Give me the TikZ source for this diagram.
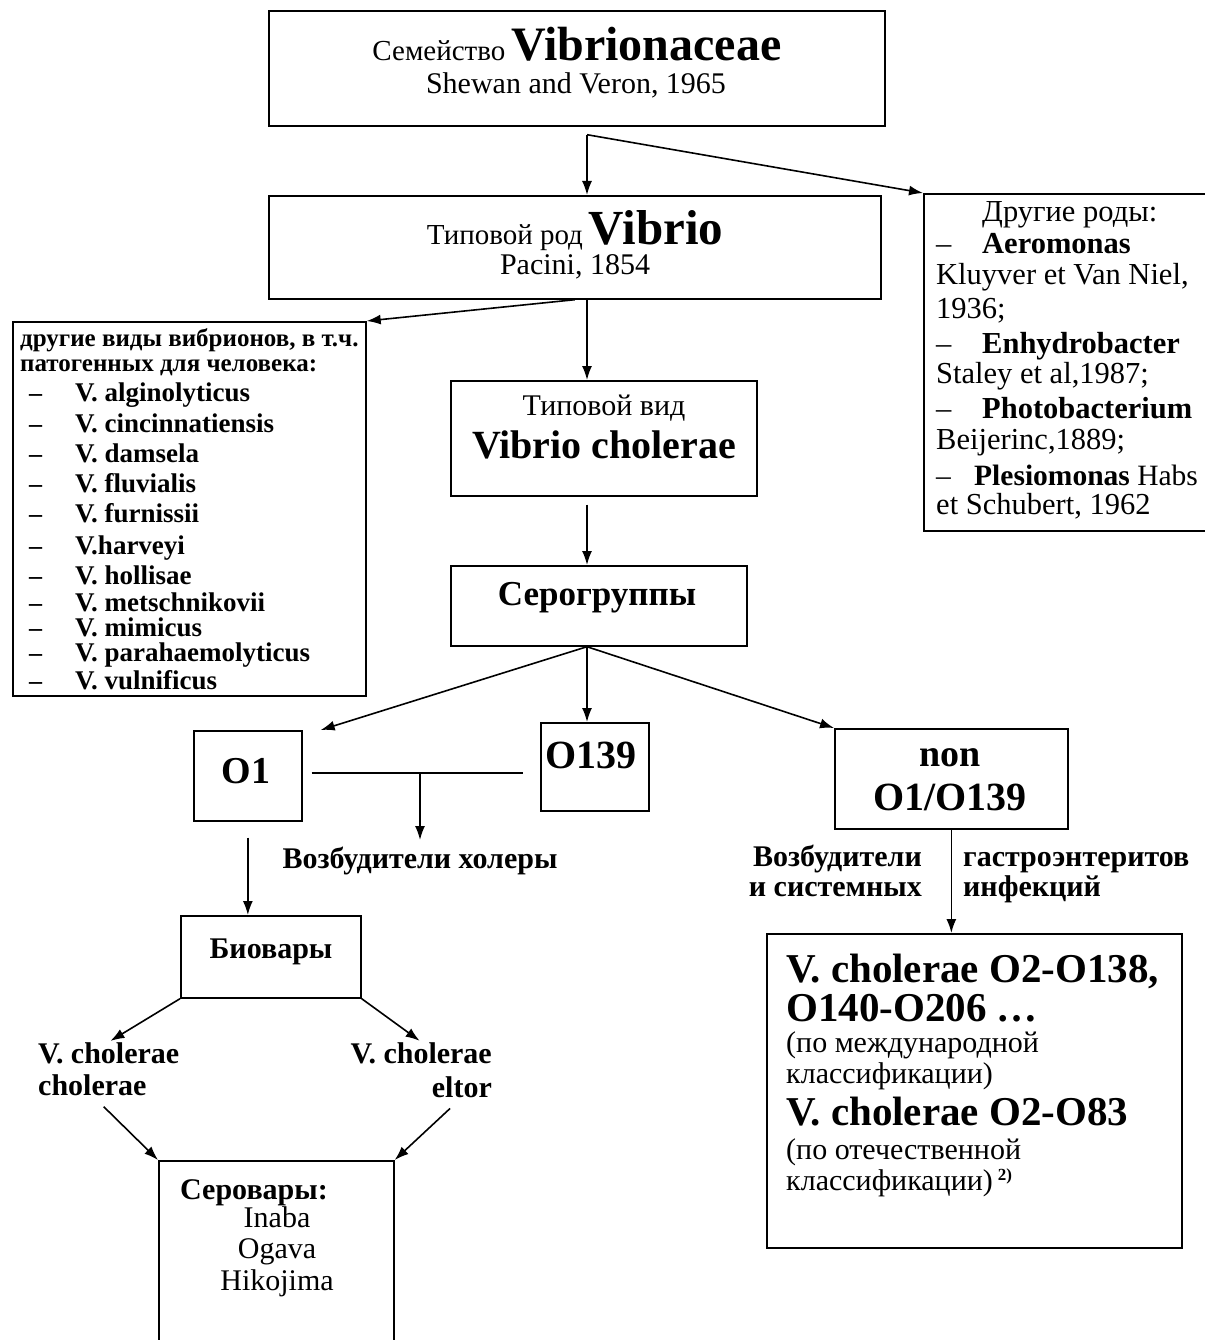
\documentclass[tikz,border=0pt]{standalone}
\usepackage{fontspec}
\setmainfont{Liberation Serif}
\usetikzlibrary{arrows.meta}
\newcommand\myfs[1]{\fontsize{#1}{#1}\selectfont}
\begin{document}
\begin{tikzpicture}[x=1pt,y=-1pt,
  box/.style={draw, line width=1.7pt, inner sep=0pt, anchor=north west},
  arr/.style={line width=1.6pt, -{Latex[length=14pt,width=10pt]}},
  ln/.style={line width=1.6pt},
  txt/.style={inner sep=0pt, anchor=base},
  lt/.style={inner sep=0pt, anchor=base west},
  rt/.style={inner sep=0pt, anchor=base east},
]
\useasboundingbox (0,0) rectangle (1204,1340);
\fill[white] (0,0) rectangle (1204,1340);
\coordinate (sp) at (587,0);

% boxes
\node[box, minimum width=616pt, minimum height=115pt] (fam) at (268,10) {};
\node[box, minimum width=612pt, minimum height=103pt] (gen) at (268,195) {};
\node[box, minimum width=353pt, minimum height=374pt] (oth) at (12,321) {};
\node[box, minimum width=300pt, minimum height=337pt] (og) at (923,193) {};
\node[box, minimum width=306pt, minimum height=115pt] (tv) at (450,380) {};
\node[box, minimum width=296pt, minimum height=80pt] (sg) at (450,565) {};
\node[box, minimum width=108pt, minimum height=90pt] (o1) at (193,730) {};
\node[box, minimum width=108pt, minimum height=88pt] (o139) at (540,722) {};
\node[box, minimum width=233pt, minimum height=100pt] (non) at (834,728) {};
\node[box, minimum width=180pt, minimum height=82pt] (bio) at (180,915) {};
\node[box, minimum width=415pt, minimum height=314pt] (vc) at (766,933) {};
\node[box, minimum width=235pt, minimum height=200pt] (ser) at (158,1160) {};

% texts
\node[txt] (famt) at (577,61) {{\myfs{29}Семейство}\hspace{6pt}{\myfs{48}\bfseries Vibrionaceae}};
\node[txt] (famy) at (576,94) {\myfs{30}Shewan and Veron, 1965};
\node[txt] (gent) at (575,244) {{\myfs{29}Типовой род}\hspace{6pt}{\myfs{49}\bfseries Vibrio}};
\node[txt] (geny) at (575,274) {\myfs{30}Pacini, 1854};

\node[lt] (oh1) at (20,346) {\myfs{25}\bfseries другие виды вибрионов, в т.ч.};
\node[lt] (oh2) at (20,371) {\myfs{25}\bfseries патогенных для человека:};
\foreach \nm/\yy [count=\i] in {V. alginolyticus/401, V. cincinnatiensis/432, V. damsela/462, V. fluvialis/492, V. furnissii/522, V.harveyi/554, V. hollisae/584, V. metschnikovii/611, V. mimicus/636, V. parahaemolyticus/661, V. vulnificus/689} {
  \node[lt] (d\i) at (29,\yy) {\myfs{26}\bfseries –};
  \node[lt] (n\i) at (75,\yy) {\myfs{27}\bfseries \nm};
}

\node[lt] (ogh) at (982,222) {\myfs{30.5}Другие роды:};
\node[lt] (og1) at (936,254) {\myfs{30.5}\makebox[46pt][l]{–}{\bfseries Aeromonas}};
\node[lt] (og2) at (936,284) {\myfs{30.5}Kluyver et Van Niel,};
\node[lt] (og3) at (936,318) {\myfs{30.5}1936;};
\node[lt] (og4) at (936,353) {\myfs{30.5}\makebox[46pt][l]{–}{\bfseries Enhydrobacter}};
\node[lt] (og5) at (936,383) {\myfs{30.5}Staley et al,1987;};
\node[lt] (og6) at (936,418) {\myfs{30.5}\makebox[46pt][l]{–}{\bfseries Photobacterium}};
\node[lt] (og7) at (936,449) {\myfs{30.5}Beijerinc,1889;};
\node[lt] (og8) at (936,485) {\myfs{29.5}\makebox[38pt][l]{–}{\bfseries Plesiomonas} Habs};
\node[lt] (og9) at (936,514) {\myfs{30.5}et Schubert, 1962};

\node[txt] (tvt) at (604,415) {\myfs{30}Типовой вид};
\node[txt] (tvn) at (604,458) {\myfs{40}\bfseries Vibrio cholerae};
\node[txt] (sgt) at (597,605) {\myfs{35}\bfseries Серогруппы};
\node[txt] (o1t) at (246,783) {\myfs{38}\bfseries O1};
\node[txt] (o139t) at (591,768) {\myfs{40}\bfseries O139};
\node[txt] (nont) at (950,766) {\myfs{38}\bfseries non};
\node[txt] (nonn) at (950,810) {\myfs{40}\bfseries O1/O139};

\node[txt] (chol) at (420,868) {\myfs{30}\bfseries Возбудители холеры};
\node[txt] (biot) at (271,958) {\myfs{30}\bfseries Биовары};
\node[lt] (vcl1) at (38,1063) {\myfs{30}\bfseries V. cholerae};
\node[lt] (vcl2) at (38,1095) {\myfs{30}\bfseries cholerae};
\node[rt] (vcr1) at (492,1063) {\myfs{30}\bfseries V. cholerae};
\node[rt] (vcr2) at (492,1097) {\myfs{30}\bfseries eltor};
\node[lt] (sert) at (180,1199) {\myfs{30}\bfseries Серовары:};
\node[txt] (ser1) at (277,1227) {\myfs{30}Inaba};
\node[txt] (ser2) at (277,1258) {\myfs{30}Ogava};
\node[txt] (ser3) at (277,1290) {\myfs{30}Hikojima};

\node[rt] (nl1) at (922,866) {\myfs{30}\bfseries Возбудители};
\node[rt] (nl2) at (922,896) {\myfs{30}\bfseries и системных};
\node[lt] (nr1) at (963,866) {\myfs{30}\bfseries гастроэнтеритов};
\node[lt] (nr2) at (963,896) {\myfs{30}\bfseries инфекций};

\node[lt] (vc1) at (786,982) {\myfs{41}\bfseries V. cholerae O2-O138,};
\node[lt] (vc2) at (786,1021) {\myfs{41}\bfseries O140-O206 …};
\node[lt] (vc3) at (786,1052) {\myfs{30}(по международной};
\node[lt] (vc4) at (786,1083) {\myfs{30}классификации)};
\node[lt] (vc5) at (786,1125) {\myfs{41}\bfseries V. cholerae O2-O83};
\node[lt] (vc6) at (786,1159) {\myfs{30}(по отечественной};
\node[lt] (vc7) at (786,1190) {\myfs{30}классификации)\,\raisebox{10pt}{\myfs{17}\bfseries 2)}};

% connectors
\coordinate (s1) at ([yshift=-8pt]fam.south -| sp);
\draw[arr] (s1) -- (gen.north -| sp);
\draw[arr] (s1) -- (og.north west);
\draw[arr] (gen.south) -- (oth.north east);
\draw[arr] (gen.south -| sp) -- (tv.north -| sp);
\draw[arr, shorten <=8pt] (tv.south -| sp) -- (sg.north -| sp);
\coordinate (s2) at (sg.south -| sp);
\draw[arr] (s2) -- ([xshift=18pt]o1.north east);
\draw[arr] (s2) -- (o139.north -| sp);
\draw[arr] (s2) -- (non.north west);
\coordinate (hl) at ([xshift=9pt]o1.east |- 0,773);
\coordinate (hr) at ([xshift=-17pt]o139.west |- 0,773);
\draw[ln] (hl) -- (hr);
\draw[arr, shorten >=28pt] (hl -| chol.base) -- (chol.base);
\draw[arr, shorten <=16pt] (o1.south) -- (o1.south |- bio.north);
\draw[arr, shorten >=2pt] (bio.south west) -- (vcl1.north);
\draw[arr, shorten >=2pt] (bio.south east) -- (vcr1.north);
\draw[arr, shorten <=16pt] (vcl2.south) -- (ser.north west);
\draw[arr, shorten <=16pt] (vcr2.south) -- (ser.north east);
\draw[arr] (non.south) -- (non.south |- vc.north);
\end{tikzpicture}
\end{document}
